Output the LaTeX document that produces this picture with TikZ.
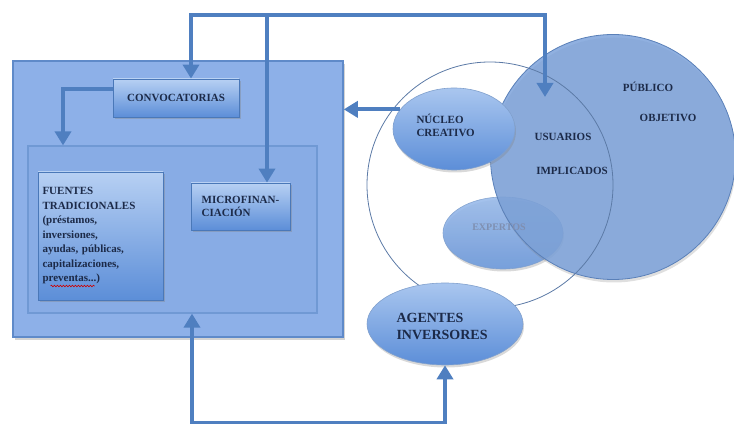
\documentclass[tikz,border=0pt]{standalone}
\usepackage{fontspec}
\setmainfont{Liberation Serif}
\usetikzlibrary{shapes.geometric,arrows.meta,shadows,decorations.pathmorphing}
\definecolor{conn}{HTML}{4F7FC0}
\definecolor{txt}{HTML}{1C2A48}
\definecolor{outerfill}{HTML}{8DB0E8}
\definecolor{outerdraw}{HTML}{5F8AC9}
\definecolor{innerfill}{HTML}{88ACE5}
\definecolor{innerdraw}{HTML}{7099D4}
\definecolor{boxtop}{HTML}{B7D0F3}
\definecolor{boxbot}{HTML}{5C8ED8}
\definecolor{boxdraw}{HTML}{4A78B8}
\definecolor{bigfill}{HTML}{7CA2DA}
\definecolor{bigdraw}{HTML}{5A80B8}
\definecolor{thinline}{HTML}{5C7AA6}
\definecolor{exptxt}{HTML}{7F8FB0}
\tikzset{
  lbl/.style={font=\bfseries\fontsize{11}{13}\selectfont, text=txt},
  panel/.style={rectangle, inner sep=0pt},
  subbox/.style={rectangle, inner sep=0pt, draw=boxdraw, line width=0.8pt,
     top color=boxtop, bottom color=boxbot,
     drop shadow={opacity=0.35, shadow xshift=1.5pt, shadow yshift=-2pt}},
  oval/.style={ellipse, inner sep=0pt, draw=boxdraw!70, line width=0.6pt,
     top color=boxtop!85!boxbot, bottom color=boxbot,
     drop shadow={opacity=0.3, shadow xshift=1pt, shadow yshift=-2.5pt}},
  wire/.style={draw=conn, line width=3.8pt},
  arr/.style={wire, -{Triangle[width=16pt,length=14pt]}},
  arrboth/.style={wire, {Triangle[width=16pt,length=14pt]}-{Triangle[width=16pt,length=14pt]}},
}
\begin{document}
\begin{tikzpicture}[x=1pt,y=-1pt]
\useasboundingbox (0,0) rectangle (734,427);
% left panels
\node[panel, minimum width=330pt, minimum height=276pt, fill=outerfill, draw=outerdraw, line width=1.5pt,
  drop shadow={opacity=0.35, shadow xshift=2pt, shadow yshift=-3pt}] (outer) at (178,199) {};
\node[panel, minimum width=289pt, minimum height=167pt, fill=innerfill, draw=innerdraw, line width=1.2pt] (inner) at (172.5,229.5) {};
\node[subbox, minimum width=126pt, minimum height=38pt, lbl] (conv) at (176,98) {CONVOCATORIAS};
\node[subbox, minimum width=125pt, minimum height=128pt, lbl, text width=116pt, align=left,
  font=\bfseries\fontsize{11}{14.5}\selectfont] (fuentes) at (100.5,236)
  {FUENTES\\TRADICIONALES\\(préstamos,\\inversiones,\\ayudas, públicas,\\capitalizaciones,\\preventas...)};
\node[subbox, minimum width=99pt, minimum height=47pt, lbl, align=left] (micro) at (240.5,206.5) {MICROFINAN-\\CIACIÓN};
\draw[red!80!black, line width=0.6pt, decorate, decoration={snake, amplitude=0.8pt, segment length=3pt}]
  ([xshift=-50pt,yshift=-50pt]fuentes.center) -- ([xshift=-6pt,yshift=-50pt]fuentes.center);
% circles
\node[oval, minimum width=120pt, minimum height=72pt, top color=boxtop!70!boxbot, bottom color=boxbot!90!white, opacity=0.9] (expertos) at (503,233) {};
\node[circle, minimum size=245pt, inner sep=0pt, fill=bigfill, fill opacity=0.85, draw=bigdraw, line width=0.8pt,
  drop shadow={opacity=0.25, shadow xshift=1pt, shadow yshift=-3pt}] (publico) at (613,157) {};
\node[font=\bfseries\fontsize{10}{12}\selectfont, text=exptxt] (exptxt) at (499,227) {EXPERTOS};
\node[circle, minimum size=246pt, inner sep=0pt, draw=thinline, line width=0.8pt] (grupo) at (490,185) {};
\node[oval, minimum width=122pt, minimum height=82pt] (nucleo) at (454,129) {};
\node[oval, minimum width=156pt, minimum height=82pt] (agentes) at (445,324) {};
% texts
\node[lbl, align=left, anchor=west] (nuctxt) at (413,125) {NÚCLEO\\CREATIVO};
\node[lbl, align=left, anchor=west, font=\bfseries\fontsize{14}{17}\selectfont] (agtxt) at (393,326) {AGENTES\\INVERSORES};
\node[lbl] (pubtxt) at (648,87) {PÚBLICO};
\node[lbl] (objtxt) at (668,118) {OBJETIVO};
\node[lbl] (usutxt) at (563,137) {USUARIOS};
\node[lbl] (imptxt) at (572,171) {IMPLICADOS};
% connectors
\coordinate (tl) at (191,15);
\coordinate (tm) at (267,15);
\coordinate (tr) at (545,15);
\coordinate (usuin) at (545,97);
\draw[wire] ([xshift=-1.9pt]tl) -- ([xshift=1.9pt]tr);
\draw[arr] (tl) -- (tl |- conv.north);
\draw[arr] (tm) -- (tm |- micro.north);
\draw[arr] (tr) -- (usuin);
\draw[arr] ([yshift=9pt]conv.west) -| ([xshift=-109.5pt]inner.north);
\draw[arr] (nucleo.160) -- (outer.east |- nucleo.160);
\draw[arrboth] ([xshift=19.5pt]inner.south) -- ++(0,109) -| (agentes.south);
\end{tikzpicture}
\end{document}
